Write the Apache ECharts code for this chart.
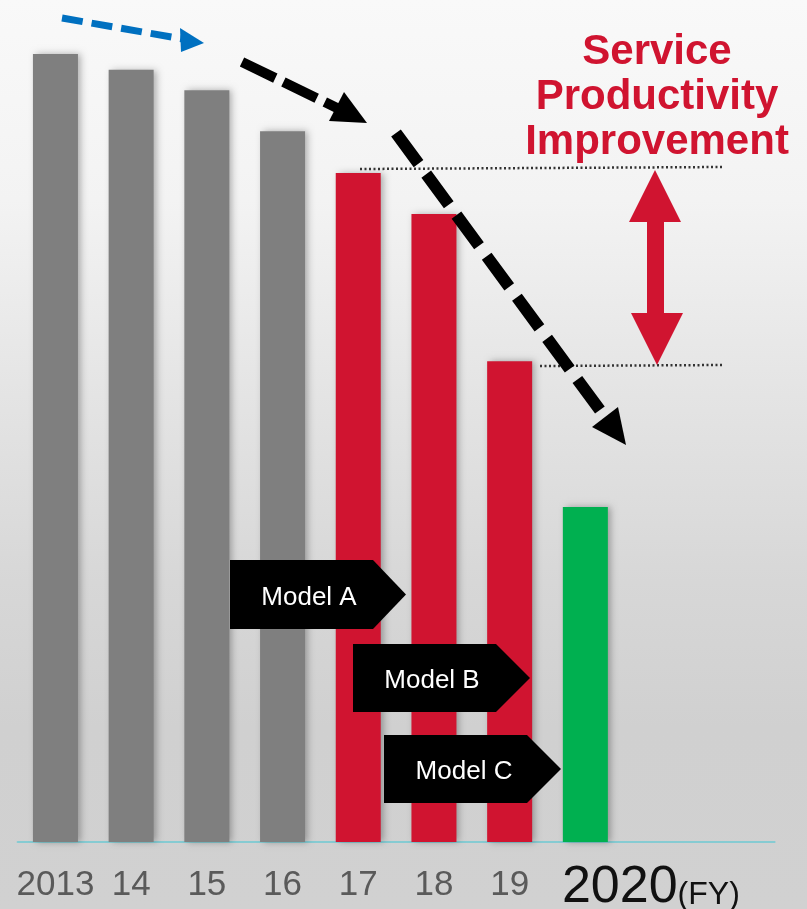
<!DOCTYPE html>
<html><head><meta charset="utf-8">
<script src="https://cdn.jsdelivr.net/npm/echarts@6/dist/echarts.min.js"></script>
<style>html,body{margin:0;padding:0;background:#e8e8e8}#c{width:807px;height:909px}</style>
</head><body><div id="c"></div>
<script>
// ---- data ----
const categories = ['2013', '14', '15', '16', '17', '18', '19', '2020', '', ''];
const values = [100, 98, 95.4, 90.2, 84.9, 79.7, 61.0, 42.5];
const phases = ['past', 'past', 'past', 'past', 'model', 'model', 'model', 'target'];
const modelLabels = ['Model A', 'Model B', 'Model C'];
const improvementLines = ['Service', 'Productivity', 'Improvement'];
const unitLabel = '(FY)';

// ---- styles ----
const phaseColors = { past: '#7f7f7f', model: '#d01430', target: '#00b050' };
const RED = '#d01430';
const FONT = '"Liberation Sans", Arial, sans-serif';

const chart = echarts.init(document.getElementById('c'), null, { renderer: 'canvas' });

function dashedArrow(p0, p1, tip, c1, c2, color, width, dash) {
  return [
    { type: 'polyline', z: 20, silent: true,
      shape: { points: [p0, p1] },
      style: { stroke: color, lineWidth: width, lineDash: dash, lineCap: 'butt', fill: null } },
    { type: 'polygon', z: 20, silent: true,
      shape: { points: [tip, c1, c2] },
      style: { fill: color } }
  ];
}

function modelBox(x, y, w, h, tipW, label, tx) {
  return [
    { type: 'polygon', z: 20, silent: true,
      shape: { points: [[x, y], [x + w, y], [x + w + tipW, y + h / 2], [x + w, y + h], [x, y + h]] },
      style: { fill: '#000' } },
    { type: 'text', z: 21, silent: true,
      style: { text: label, x: tx, y: y + h / 2 + 3, align: 'center', verticalAlign: 'middle',
               font: '26px ' + FONT, fill: '#fff' } }
  ];
}

const graphics = [
  { type: 'rect', z: -100, silent: true,
    shape: { x: 0, y: 0, width: 807, height: 909 },
    style: { fill: { type: 'linear', x: 0, y: 0, x2: 0, y2: 1,
      colorStops: [
        { offset: 0, color: '#f9f9f9' },
        { offset: 0.22, color: '#f3f3f3' },
        { offset: 0.42, color: '#e5e5e5' },
        { offset: 0.64, color: '#d7d7d7' },
        { offset: 0.8, color: '#d0d0d0' },
        { offset: 1, color: '#d1d1d1' }
      ] } } },
  // dotted reference lines
  { type: 'polyline', z: 15, silent: true, shape: { points: [[360, 169], [723, 167]] },
    style: { stroke: '#333', lineWidth: 2.5, lineDash: [2, 2.5], fill: null } },
  { type: 'polyline', z: 15, silent: true, shape: { points: [[540, 366], [723, 365]] },
    style: { stroke: '#333', lineWidth: 2.5, lineDash: [2, 2.5], fill: null } },
  // double-headed red arrow
  { type: 'polygon', z: 16, silent: true,
    shape: { points: [[655, 170], [681, 222], [664, 222], [664, 313], [683, 313], [657, 365],
                      [631, 313], [647, 313], [647, 222], [629, 222]] },
    style: { fill: RED } },
  // red caption
  { type: 'text', z: 16, silent: true,
    style: { text: improvementLines.join('\n'), x: 657, y: 30, align: 'center', verticalAlign: 'top',
             font: 'bold 42px ' + FONT, lineHeight: 45, fill: RED } }
]
  .concat(dashedArrow([62, 18], [183, 39], [204, 43], [180, 28], [181, 52], '#0070c0', 7, [21, 9]))
  .concat(dashedArrow([242, 62], [337, 108], [367, 123], [329, 121], [344, 92], '#000', 10, [37, 9]))
  .concat(dashedArrow([396, 133], [605, 417], [626, 445], [592, 427], [618, 407], '#000', 12, [38, 13]))
  .concat(modelBox(230, 560, 143, 69, 33, modelLabels[0], 309))
  .concat(modelBox(353, 644, 143, 68, 34, modelLabels[1], 432))
  .concat(modelBox(384, 735, 143, 68, 34, modelLabels[2], 464));

const option = {
  animation: false,
  backgroundColor: 'transparent',
  grid: { left: 17.6, right: 32.4, top: 54, bottom: 67, containLabel: false, outerBoundsMode: 'none' },
  xAxis: {
    type: 'category',
    data: categories,
    axisLine: { lineStyle: { color: '#86cbd2', width: 2 } },
    axisTick: { show: false },
    splitLine: { show: false },
    axisLabel: {
      interval: 0,
      margin: 23,
      formatter: function (v) {
        if (v === '2020') return '{sp|}{big|' + v + '}{fy|' + unitLabel + '}';
        return v ? '{sm|' + v + '}' : '';
      },
      rich: {
        sm: { fontSize: 35, fontFamily: FONT, color: '#5a5a5a', lineHeight: 40 },
        sp: { width: 131, height: 10 },
        big: { fontSize: 52, fontFamily: FONT, color: '#111', lineHeight: 46 },
        fy: { fontSize: 32, fontFamily: FONT, color: '#111', lineHeight: 32, verticalAlign: 'bottom' }
      }
    }
  },
  yAxis: { type: 'value', min: 0, max: 100, show: false, splitLine: { show: false } },
  series: [{
    type: 'bar',
    barWidth: 45,
    data: values.map((v, i) => ({ value: v, itemStyle: { color: phaseColors[phases[i]] } })),
    itemStyle: { shadowBlur: 7, shadowColor: 'rgba(0,0,0,0.3)', shadowOffsetX: 3, shadowOffsetY: 0 },
    z: 5
  }],
  graphic: { elements: graphics }
};
chart.setOption(option);
</script>
</body></html>
